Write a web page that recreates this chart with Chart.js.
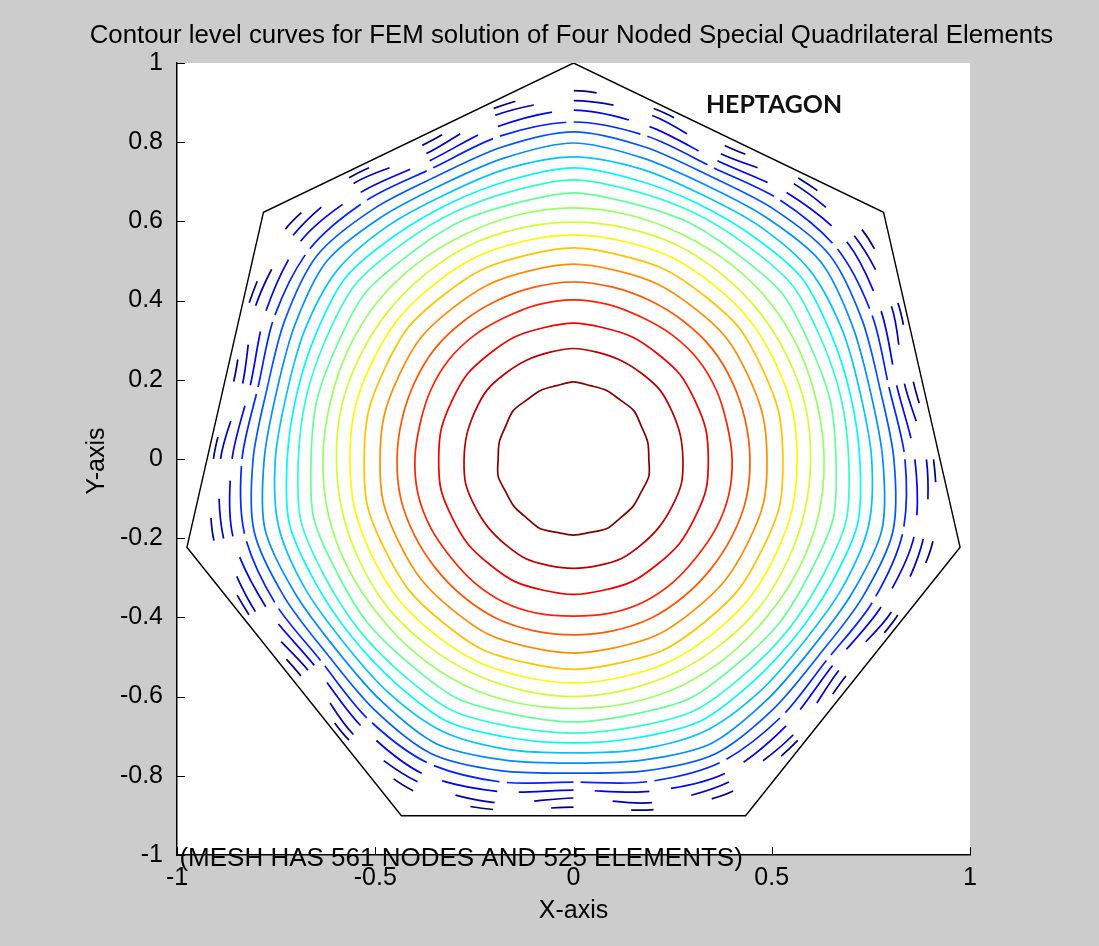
<!DOCTYPE html>
<html>
<head>
<meta charset="utf-8">
<script src="https://cdn.jsdelivr.net/npm/chart.js@4/dist/chart.umd.min.js"></script>
<style>
  html, body { margin: 0; padding: 0; background: #cccccc; }
  #wrap { width: 1099px; height: 946px; }
</style>
</head>
<body>
<div id="wrap"><canvas id="c" width="1099" height="946"></canvas></div>
<script>
// Axis ticks
const xTicks = [-1, -0.5, 0, 0.5, 1];
const xTickLabels = ['-1', '-0.5', '0', '0.5', '1'];
const yTicks = [-1, -0.8, -0.6, -0.4, -0.2, 0, 0.2, 0.4, 0.6, 0.8, 1];
const yTickLabels = ['-1', '-0.8', '-0.6', '-0.4', '-0.2', '0', '0.2', '0.4', '0.6', '0.8', '1'];

// Heptagon boundary (closed)
const heptX = [0, 0.782, 0.975, 0.434, -0.434, -0.975, -0.782, 0];
const heptY = [1, 0.623, -0.223, -0.901, -0.901, -0.223, 0.623, 1];

// Contour levels, innermost (highest value) to outermost.
// Radius of each level curve measured towards a vertex, towards an edge
// midpoint, and half-way between the two.
const rVertex = [0.195, 0.279, 0.343, 0.402, 0.447, 0.492, 0.533, 0.566, 0.598, 0.634,
                 0.672, 0.705, 0.735, 0.763, 0.798, 0.826, 0.851, 0.881, 0.905, 0.930];
const rEdge   = [0.192, 0.276, 0.342, 0.397, 0.444, 0.490, 0.531, 0.566, 0.600, 0.630,
                 0.664, 0.692, 0.717, 0.742, 0.768, 0.793, 0.816, 0.836, 0.856, 0.879];
const rMid    = [0.190, 0.276, 0.340, 0.400, 0.445, 0.488, 0.528, 0.564, 0.598, 0.632,
                 0.662, 0.694, 0.722, 0.752, 0.780, 0.808, 0.836, 0.861, 0.890, 0.908];

// Share of each mesh span where the outer level curves are actually drawn
const drawnShare = [1, 1, 1, 1, 1, 1, 1, 1, 1, 1, 1, 1, 1, 1, 1, 1, 0.9, 0.72, 0.5, 0.28];

// jet colormap
function jet(t) {
  const c = v => Math.round(255 * Math.max(0, Math.min(1, v)));
  return `rgb(${c(1.5 - Math.abs(4 * t - 3))},${c(1.5 - Math.abs(4 * t - 2))},${c(1.5 - Math.abs(4 * t - 1))})`;
}

const nLevels = rVertex.length;
// colour limits span the lowest to the highest level
const levelColors = rVertex.map((_, i) => jet((nLevels - 1 - i) / (nLevels - 1)));

// Closed level curve through the 7-fold symmetric directions
// (vertex, between, edge, between, ...), padded at both ends so the
// spline stays smooth where the loop closes.
function levelCurve(i) {
  const pts = [];
  for (let m = 0; m < 28; m++) {
    const r = m % 4 === 0 ? rVertex[i] : (m % 4 === 2 ? rEdge[i] : rMid[i]);
    const a = (90 + m * 90 / 7) * Math.PI / 180;
    pts.push({ x: r * Math.cos(a), y: r * Math.sin(a) });
  }
  return [pts[27], ...pts, pts[0], pts[1]];
}

const LAST = 30; // index of the last padded point
const datasets = [];
for (let i = 0; i < nLevels; i++) {
  const color = levelColors[i];
  const share = drawnShare[i];
  datasets.push({
    data: levelCurve(i),
    showLine: true,
    borderColor: color,
    borderWidth: 1.7,
    pointRadius: 0,
    tension: 0.3,
    segment: {
      borderColor: ctx => (ctx.p0DataIndex === 0 || ctx.p1DataIndex === LAST) ? 'rgba(0,0,0,0)' : color,
      borderDash: ctx => {
        if (share >= 1) return [];
        const len = Math.hypot(ctx.p1.x - ctx.p0.x, ctx.p1.y - ctx.p0.y);
        return [0, (1 - share) * len, share * len, 100000];
      },
      borderDashOffset: ctx => share >= 1 ? 0 : ctx.p0DataIndex * 0.001
    }
  });
}
datasets.push({
  data: heptX.map((x, k) => ({ x, y: heptY[k] })),
  showLine: true,
  borderColor: '#000000',
  borderWidth: 1.4,
  pointRadius: 0,
  tension: 0
});

const FONT = 'Liberation Sans, Arial, sans-serif';

const decor = {
  id: 'decor',
  beforeDraw(chart) {
    const { ctx, chartArea: a } = chart;
    ctx.save();
    ctx.fillStyle = '#ffffff';
    ctx.fillRect(a.left, a.top, a.right - a.left, a.bottom - a.top);
    ctx.restore();
  },
  afterDraw(chart) {
    const { ctx, chartArea: a } = chart;
    const xs = chart.scales.x, ys = chart.scales.y;
    ctx.save();
    // inward tick marks
    ctx.strokeStyle = '#000';
    ctx.lineWidth = 1;
    ctx.beginPath();
    xTicks.forEach(v => {
      const px = Math.round(xs.getPixelForValue(v)) + 0.5;
      ctx.moveTo(px, a.bottom);
      ctx.lineTo(px, a.bottom - 8);
    });
    yTicks.forEach(v => {
      const py = Math.round(ys.getPixelForValue(v)) + 0.5;
      ctx.moveTo(a.left, py);
      ctx.lineTo(a.left + 8, py);
    });
    ctx.stroke();

    ctx.fillStyle = '#000';
    // title
    ctx.font = '25.8px ' + FONT;
    ctx.textAlign = 'center';
    ctx.textBaseline = 'alphabetic';
    ctx.fillText('Contour level curves for FEM solution of Four Noded Special Quadrilateral Elements', (a.left + a.right) / 2 - 2, 43);

    // axis titles
    ctx.font = '25px ' + FONT;
    ctx.textBaseline = 'middle';
    ctx.fillText('X-axis', (a.left + a.right) / 2, 911);
    ctx.save();
    ctx.translate(97, (a.top + a.bottom) / 2 + 2);
    ctx.rotate(-Math.PI / 2);
    ctx.fillText('Y-axis', 0, 0);
    ctx.restore();

    // annotations
    ctx.textAlign = 'left';
    ctx.textBaseline = 'alphabetic';
    ctx.font = '26px ' + FONT;
    ctx.fillText('(MESH HAS 561 NODES AND 525 ELEMENTS)', xs.getPixelForValue(-0.994), ys.getPixelForValue(-1.028));

    ctx.font = 'bold 22px Lato, "Open Sans", sans-serif';
    const w = ctx.measureText('HEPTAGON').width;
    const size = 22 * 136 / w;
    ctx.font = `bold ${size.toFixed(1)}px Lato, "Open Sans", sans-serif`;
    ctx.fillStyle = '#111';
    ctx.fillText('HEPTAGON', xs.getPixelForValue(0.334), ys.getPixelForValue(0.873));
    ctx.restore();
  }
};

new Chart(document.getElementById('c'), {
  type: 'scatter',
  data: { datasets },
  options: {
    responsive: false,
    devicePixelRatio: 1,
    animation: false,
    events: [],
    layout: { padding: { top: 63, right: 129, left: 0, bottom: 0 } },
    plugins: { legend: { display: false }, tooltip: { enabled: false }, title: { display: false } },
    scales: {
      x: {
        type: 'linear', min: -1, max: 1,
        afterBuildTicks: s => { s.ticks = xTicks.map(v => ({ value: v })); },
        afterFit: s => { s.height = 91; },
        grid: { display: false, drawTicks: false },
        border: { display: true, color: '#000', width: 1.5 },
        ticks: {
          autoSkip: false, maxRotation: 0, padding: 8, color: '#000',
          font: { family: FONT, size: 25 },
          callback: (v, i) => xTickLabels[i]
        }
      },
      y: {
        type: 'linear', min: -1, max: 1,
        afterBuildTicks: s => { s.ticks = yTicks.map(v => ({ value: v })); },
        afterFit: s => { s.width = 177; },
        grid: { display: false, drawTicks: false },
        border: { display: true, color: '#000', width: 1.5 },
        ticks: {
          autoSkip: false, padding: 14, color: '#000',
          font: { family: FONT, size: 25 },
          callback: (v, i) => yTickLabels[i]
        }
      }
    }
  },
  plugins: [decor]
});
</script>
</body>
</html>
